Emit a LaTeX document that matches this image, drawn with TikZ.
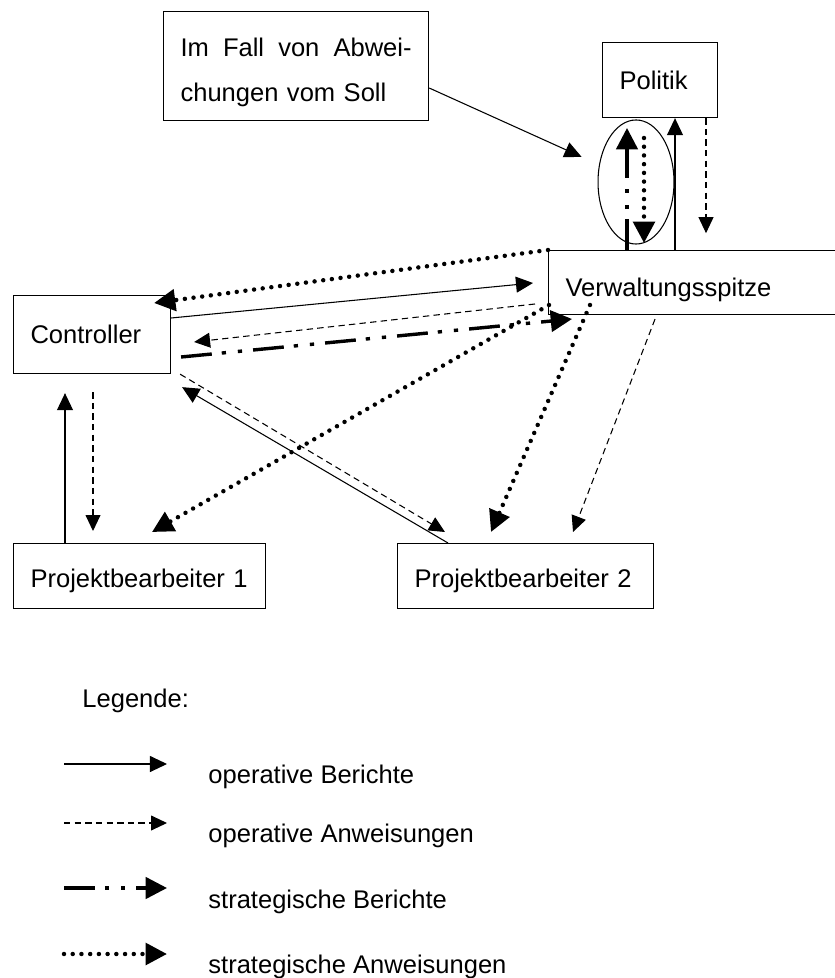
\documentclass[tikz,border=0pt]{standalone}
\usepackage{fontspec}
\setmainfont{Liberation Sans}
\usetikzlibrary{arrows.meta,calc,shapes.geometric}

\begin{document}
\begin{tikzpicture}[x=0.47pt,y=-0.47pt,
  kasten/.style={draw,line width=0.5pt,anchor=north west,align=left,inner xsep=8pt,inner ysep=0pt,font=\fontsize{12}{14}\selectfont},
  opber/.style={line width=0.5pt,-{Triangle[length=8pt,width=7.5pt]}},
  opanw/.style={line width=0.5pt,dash pattern=on 3pt off 2pt,-{Triangle[length=7.5pt,width=7pt]}},
  strber/.style={line width=1.6pt,dash pattern=on 14.5pt off 4.7pt on 2pt off 5.6pt on 2pt off 5.2pt,-{Triangle[length=10pt,width=10pt]}},
  stranw/.style={line width=2.1pt,line cap=round,dash pattern=on 0pt off 4.1pt,-{Triangle[length=10pt,width=10pt]}},
  legtext/.style={anchor=base west,inner sep=0pt,font=\fontsize{12}{14}\selectfont}]

  \useasboundingbox (0,0) rectangle (835,978);
  \clip (0,0) rectangle (835,978);

  % Kaesten
  \node[kasten,text width=108.6pt,minimum height=51.2pt,font=\fontsize{12}{21.15}\selectfont] (abweichung) at (163,11) {\rule{0pt}{15pt}Im\hfill Fall\hfill von\hfill Abwei-\\chungen vom Soll};
  \node[kasten,text width=38.1pt,minimum height=35.3pt] (politik) at (602,42) {Politik};
  \node[kasten,text width=125pt,minimum height=30.1pt] (verwaltung) at (548,250) {\rule{0pt}{16pt}Verwaltungsspitze};
  \node[kasten,text width=57.8pt,minimum height=36.7pt] (controller) at (13,295) {Controller};
  \node[kasten,text width=102.4pt,minimum height=30.6pt] (pb1) at (13,543) {\rule{0pt}{13.4pt}Projektbearbeiter 1};
  \node[kasten,text width=104.3pt,minimum height=30.6pt] (pb2) at (397,543) {\rule{0pt}{13.4pt}Projektbearbeiter 2};
  \node[draw,ellipse,line width=0.5pt,minimum width=35.7pt,minimum height=58.3pt,inner sep=0pt] (fokus) at (636,182) {};

  \draw[opber,shorten >=9pt] ($(abweichung.east)+(0,22)$) -- (fokus.155);

  % Politik und Verwaltungsspitze
  \draw[opber] ($(verwaltung.north west)+(127,0)$) -- ($(politik.south west)+(73,0)$);
  \draw[opanw] ($(politik.south west)+(104,0)$) -- ($(politik.south west)+(104,115)$);
  \draw[strber] ($(verwaltung.north west)+(79,0)$) -- ($(verwaltung.north west)+(79,-122)$);
  \draw[stranw] ($(verwaltung.north west)+(96,-112)$) -- ($(verwaltung.north west)+(96,-7)$);

  % Controller und Verwaltungsspitze
  \draw[stranw] (verwaltung.north west) -- ($(controller.north east)+(-17,8)$);
  \draw[opber] ($(controller.north east)+(0,23)$) -- ($(verwaltung.north west)+(-15,33)$);
  \draw[opanw] ($(verwaltung.north west)+(-13,54)$) -- ($(controller.north east)+(23,47)$);
  \draw[strber] ($(controller.north east)+(10,62)$) -- ($(verwaltung.north west)+(24,69)$);

  % Verwaltungsspitze und Projektbearbeiter
  \draw[stranw] ($(verwaltung.north west)+(1,55)$) -- ($(pb1.north west)+(139,-11)$);
  \draw[stranw] ($(verwaltung.north west)+(42,55)$) -- ($(pb2.north west)+(94,-11)$);
  \draw[opanw] ($(verwaltung.south west)+(107,4)$) -- ($(pb2.north west)+(176,-11)$);

  % Controller und Projektbearbeiter
  \draw[opber] ($(pb1.north west)+(52,0)$) -- ($(controller.south west)+(52,19)$);
  \draw[opanw] ($(controller.south west)+(80,18)$) -- ($(pb1.north west)+(80,-12)$);
  \draw[opber] ($(pb2.north west)+(51,0)$) -- ($(controller.south east)+(11,13)$);
  \draw[opanw] ($(controller.south east)+(9,0)$) -- ($(pb2.north west)+(48,-11)$);

  % Legende
  \node[legtext] (legende) at (82,707) {Legende:};
  \node[legtext] (t1) at (208,783) {operative Berichte};
  \node[legtext] (t2) at (208,842) {operative Anweisungen};
  \node[legtext] (t3) at (208,908) {strategische Berichte};
  \node[legtext] (t4) at (208,973) {strategische Anweisungen};
  \coordinate (l1a) at (64,764); \coordinate (l1b) at (167,764);
  \coordinate (l2a) at (64,823); \coordinate (l2b) at (167,823);
  \coordinate (l3a) at (64,888); \coordinate (l3b) at (167,888);
  \coordinate (l4a) at (64,954); \coordinate (l4b) at (167,954);
  \draw[opber] (l1a) -- (l1b);
  \draw[opanw] (l2a) -- (l2b);
  \draw[strber] (l3a) -- (l3b);
  \draw[stranw] (l4a) -- (l4b);
\end{tikzpicture}
\end{document}
